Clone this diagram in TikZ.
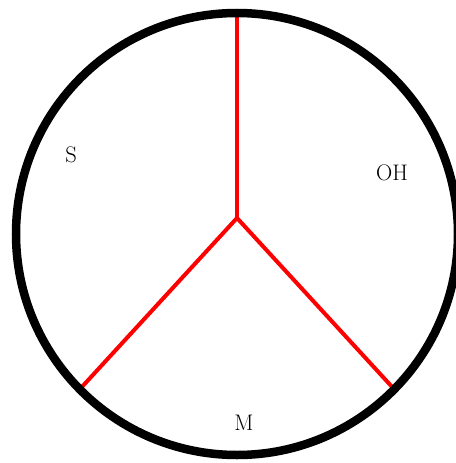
\documentclass[tikz,border=0pt]{standalone}
\usepackage{fontspec}
\usepackage{tikz}
\usetikzlibrary{positioning}

\begin{document}
\begin{tikzpicture}[
  x=1pt, y=-1pt,
  rim/.style={draw=black, line width=8.5pt},
  spoke/.style={draw=red, line width=4pt, line cap=butt},
  lab/.style={font=\fontsize{22.5}{25}\selectfont, inner sep=0pt},
]
\useasboundingbox (0,0) rectangle (455,463);
% outer ring and the three sector boundaries
\coordinate (mid) at (237,234);
\coordinate (hub) at (237,218);
\coordinate (top) at (237,13);
\coordinate (bl) at (80,389);
\coordinate (br) at (394,389);
\foreach \e in {top,bl,br} {\draw[spoke] (hub) -- (\e);}
\draw[rim] (mid) circle (221pt);

% sector labels
\node[lab] (s)  at (71,155)  {S};
\node[lab] (oh) at (392,173) {OH};
\node[lab] (m)  at (244,423) {M};
\end{tikzpicture}
\end{document}
